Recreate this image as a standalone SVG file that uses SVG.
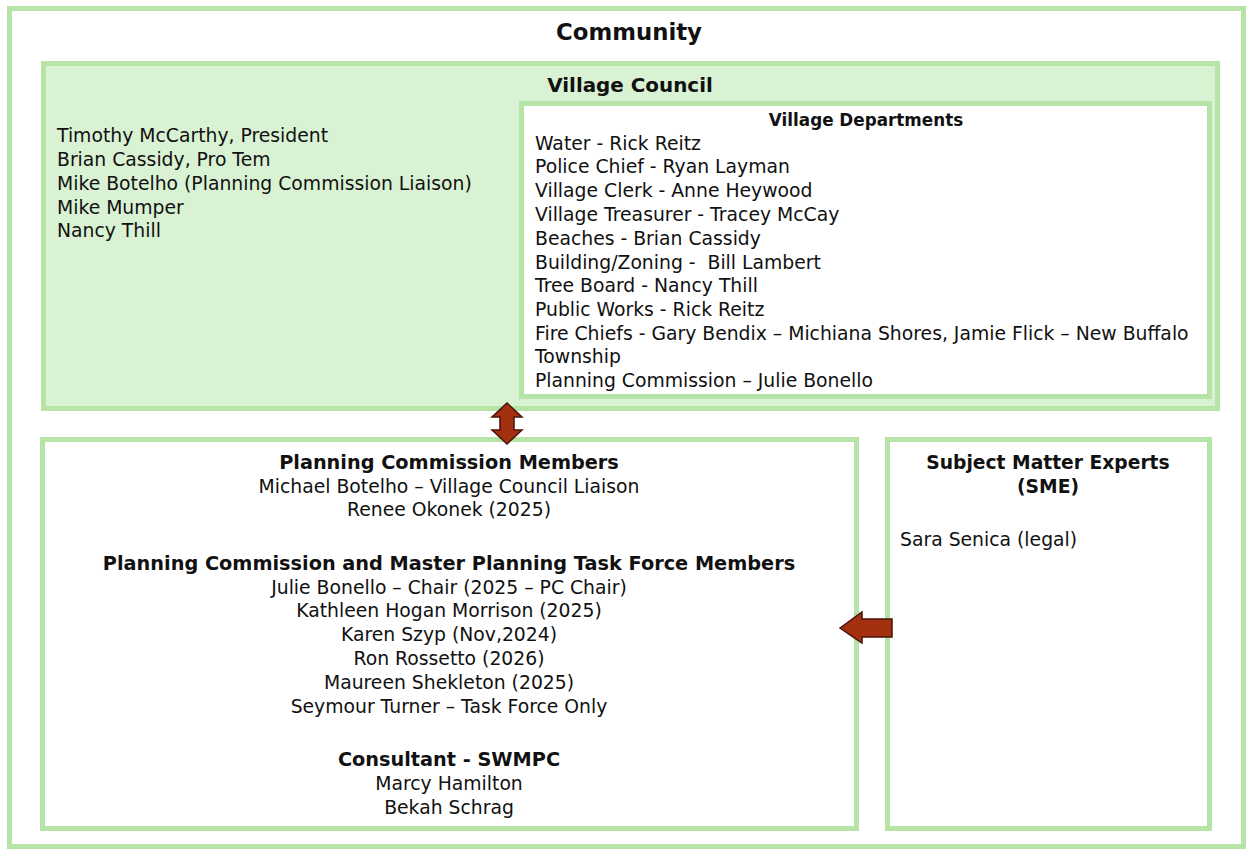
<svg xmlns="http://www.w3.org/2000/svg" width="1249" height="851" viewBox="0 0 1249 851">
<style>
.box{fill:#fff;stroke:#b5e4a6;stroke-width:5}
.vc{fill:#d9f2d3;stroke:#b5e4a6;stroke-width:5}
text{font-family:"DejaVu Sans","Liberation Sans",sans-serif;fill:#111}
.t{font-size:18.8px}
.b{font-weight:bold}
.c{text-anchor:middle}
.h{font-size:19.3px;font-weight:bold;text-anchor:middle}
.arr{fill:#a3300f;stroke:#4a1208;stroke-width:1.5;stroke-linejoin:miter}
</style>
<g id="community">
<rect class="box" x="9.5" y="8.5" width="1234" height="838"/>
<text class="b c" x="629" y="40" font-size="22.8">Community</text>
</g>
<g id="village-council">
<rect class="vc" x="43.5" y="63.5" width="1174" height="345"/>
<text class="b c" x="630" y="92" font-size="19.9">Village Council</text>
<text class="t" x="57" y="142">Timothy McCarthy, President</text>
<text class="t" x="57" y="166">Brian Cassidy, Pro Tem</text>
<text class="t" x="57" y="190">Mike Botelho (Planning Commission Liaison)</text>
<text class="t" x="57" y="214">Mike Mumper</text>
<text class="t" x="57" y="237">Nancy Thill</text>
</g>
<g id="village-departments">
<rect class="box" x="521.5" y="103.5" width="688" height="293"/>
<text class="b c" x="866" y="126" font-size="16.8">Village Departments</text>
<text class="t" x="535" y="150">Water - Rick Reitz</text>
<text class="t" x="535" y="173">Police Chief - Ryan Layman</text>
<text class="t" x="535" y="197">Village Clerk - Anne Heywood</text>
<text class="t" x="535" y="221">Village Treasurer - Tracey McCay</text>
<text class="t" x="535" y="245">Beaches - Brian Cassidy</text>
<text class="t" x="535" y="269" xml:space="preserve">Building/Zoning -  Bill Lambert</text>
<text class="t" x="535" y="292">Tree Board - Nancy Thill</text>
<text class="t" x="535" y="316">Public Works - Rick Reitz</text>
<text class="t" x="535" y="340">Fire Chiefs - Gary Bendix – Michiana Shores, Jamie Flick – New Buffalo</text>
<text class="t" x="535" y="363">Township</text>
<text class="t" x="535" y="387">Planning Commission – Julie Bonello</text>
</g>
<g id="planning-commission">
<rect class="box" x="42.5" y="439.5" width="814" height="389"/>
<text class="h" x="449" y="469">Planning Commission Members</text>
<text class="t c" x="449" y="493">Michael Botelho – Village Council Liaison</text>
<text class="t c" x="449" y="516">Renee Okonek (2025)</text>
<text class="h" x="449" y="570">Planning Commission and Master Planning Task Force Members</text>
<text class="t c" x="449" y="594">Julie Bonello – Chair (2025 – PC Chair)</text>
<text class="t c" x="449" y="617">Kathleen Hogan Morrison (2025)</text>
<text class="t c" x="449" y="641">Karen Szyp (Nov,2024)</text>
<text class="t c" x="449" y="665">Ron Rossetto (2026)</text>
<text class="t c" x="449" y="689">Maureen Shekleton (2025)</text>
<text class="t c" x="449" y="713">Seymour Turner – Task Force Only</text>
<text class="h" x="449" y="766">Consultant - SWMPC</text>
<text class="t c" x="449" y="790">Marcy Hamilton</text>
<text class="t c" x="449" y="814">Bekah Schrag</text>
</g>
<g id="sme">
<rect class="box" x="887.5" y="439.5" width="322" height="389"/>
<text class="b c" x="1048" y="469" font-size="18.7">Subject Matter Experts</text>
<text class="b c" x="1048" y="493" font-size="18.7">(SME)</text>
<text class="t" x="900" y="546">Sara Senica (legal)</text>
</g>
<g id="connectors">
<path class="arr" d="M507,403 L522,417 L514,417 L514,430 L522,430 L507,444 L492,430 L500,430 L500,417 L492,417 Z"/>
<path class="arr" d="M840,628 L862,612 L862,619 L892,619 L892,637 L862,637 L862,643 Z"/>
</g>
</svg>
